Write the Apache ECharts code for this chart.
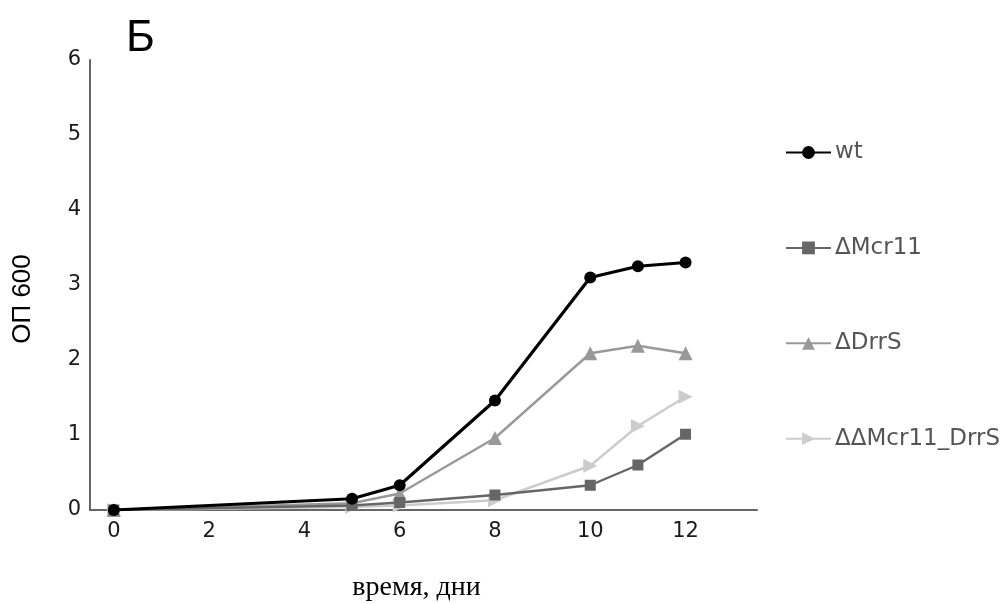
<!DOCTYPE html>
<html>
<head>
<meta charset="utf-8">
<script src="https://cdn.jsdelivr.net/npm/echarts@6/dist/echarts.min.js"></script>
<style>
  html, body { margin: 0; padding: 0; background: #fff; }
  #chart { width: 1008px; height: 604px; }
</style>
</head>
<body>
<div id="chart"></div>
<script>
// Growth curves: optical density (OD600) over days
const days = [0, 5, 6, 8, 10, 11, 12];
const wt = [0, 0.15, 0.33, 1.46, 3.1, 3.25, 3.3];
const dMcr11 = [0, 0.06, 0.1, 0.2, 0.33, 0.6, 1.01];
const dDrrS = [0, 0.09, 0.22, 0.96, 2.09, 2.19, 2.09];
const dMcr11DrrS = [0, 0.04, 0.06, 0.13, 0.59, 1.12, 1.51];
const xTicks = [0, 2, 4, 6, 8, 10, 12];
const yTicks = [0, 1, 2, 3, 4, 5, 6];

const seriesNames = ['wt', '\u0394Mcr11', '\u0394DrrS', '\u0394\u0394Mcr11_DrrS'];
const seriesValues = [wt, dMcr11, dDrrS, dMcr11DrrS];
const colors = ['#000000', '#666666', '#999999', '#cccccc'];
const symbols = ['circle', 'rect', 'triangle', 'triangle'];
const rotations = [0, 0, 0, -90];
const widths = [3.2, 2.4, 2.4, 2.4];
const sizes = [12, 11, 14, 14];

const pairs = vals => days.map((d, i) => [d, vals[i]]);

const chart = echarts.init(document.getElementById('chart'));
chart.setOption({
  animation: false,
  backgroundColor: '#ffffff',
  title: {
    text: '\u0411',
    left: 121,
    top: 12,
    textStyle: { fontFamily: 'Liberation Sans', fontSize: 44, fontWeight: 'normal', color: '#000' }
  },
  grid: { left: 90, right: 251, top: 60, bottom: 94, containLabel: false, outerBoundsMode: 'none' },
  legend: {
    orient: 'vertical',
    left: 785,
    top: 141,
    padding: 0,
    itemWidth: 45,
    itemHeight: 16,
    itemGap: 72.4,
    textStyle: { fontFamily: 'DejaVu Sans', fontSize: 23, color: '#555', padding: [0, 0, 0, -1] },
    data: seriesNames
  },
  xAxis: {
    type: 'value',
    min: -0.5,
    max: 13.5,
    name: '\u0432\u0440\u0435\u043c\u044f, \u0434\u043d\u0438',
    nameLocation: 'middle',
    nameGap: 64,
    nameTextStyle: { fontFamily: 'Liberation Serif', fontSize: 28, color: '#000', padding: [0, 14, 0, 0] },
    axisLine: { show: true, onZero: false, lineStyle: { color: '#666', width: 2 } },
    axisTick: { show: false },
    splitLine: { show: false },
    axisLabel: {
      customValues: xTicks,
      fontFamily: 'DejaVu Sans',
      fontSize: 21,
      color: '#1a1a1a',
      margin: 11
    }
  },
  yAxis: {
    type: 'value',
    min: 0,
    max: 6,
    interval: 1,
    name: '\u041e\u041f 600',
    nameLocation: 'middle',
    nameGap: 54,
    nameTextStyle: { fontFamily: ['Liberation Sans Narrow', 'Liberation Sans'], fontSize: 26, color: '#000', padding: [0, 0, 0, -28] },
    axisLine: { show: true, onZero: false, lineStyle: { color: '#666', width: 2 } },
    axisTick: { show: false },
    splitLine: { show: false },
    axisLabel: {
      customValues: yTicks,
      fontFamily: 'DejaVu Sans',
      fontSize: 21,
      color: '#1a1a1a',
      margin: 9
    }
  },
  series: seriesNames.map((name, i) => ({
    name: name,
    type: 'line',
    data: pairs(seriesValues[i]),
    symbol: symbols[i],
    symbolSize: sizes[i],
    symbolRotate: rotations[i],
    z: 10 - i,
    color: colors[i],
    lineStyle: { color: colors[i], width: widths[i] },
    itemStyle: { color: colors[i] }
  })).reverse()
});
</script>
</body>
</html>
